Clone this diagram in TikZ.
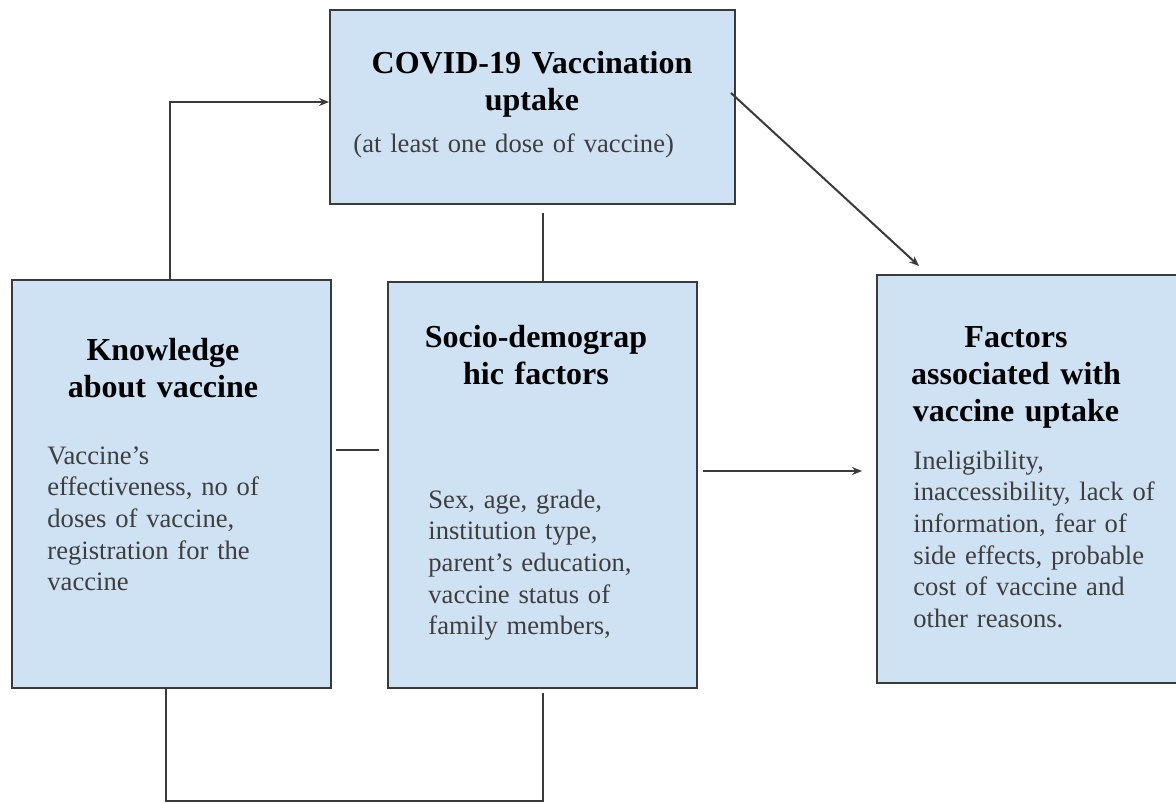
\documentclass[tikz,border=0pt]{standalone}
\usepackage{fontspec}
\setmainfont{Liberation Serif}
\usetikzlibrary{arrows.meta, positioning, calc}

\definecolor{boxfill}{HTML}{CFE2F3}
\definecolor{boxline}{HTML}{3A3A3A}
\definecolor{bodytext}{HTML}{3E3E3E}

\begin{document}
\begin{tikzpicture}[x=0.5pt,y=-0.5pt,
		box/.style={draw=boxline, fill=boxfill, line width=1pt, inner sep=0pt},
		head/.style={font=\fontsize{16}{18.5}\selectfont\bfseries, inner sep=0pt, align=center, anchor=base},
		body/.style={font=\fontsize{13.3}{15.85}\selectfont, text=bodytext, inner sep=0pt, align=left, anchor=base west},
		link/.style={draw=boxline, line width=1pt},
		arrow/.style={link, -{Stealth[length=5pt,width=4pt]}}]
			\useasboundingbox (0,0) rectangle (1176,803);

			\node[box, minimum width=202.5pt, minimum height=97pt] (uptake) at (532.5,107) {};
			\node[box, minimum width=159.5pt, minimum height=204pt] (know) at (171.5,484) {};
			\node[box, minimum width=154.5pt, minimum height=203pt] (socio) at (542.5,485) {};
			\node[box, minimum width=152.5pt, minimum height=204pt] (factors) at (1029.5,479) {};

			\node[head, text width=190pt] (uptaketitle) at (532,73) {COVID-19 Vaccination\\uptake};
			\node[body, text width=170pt] (uptakenote) at (353,152) {(at least one dose of vaccine)};

			\node[head, text width=140pt] (knowtitle) at (163,360) {Knowledge\\about vaccine};
			\node[body, text width=140pt] (knowtext) at (47,464) {Vaccine’s\\effectiveness, no of\\doses of vaccine,\\registration for the\\vaccine};

			\node[head, text width=140pt] (sociotitle) at (536,347) {Socio-demograp\\hic factors};
			\node[body, text width=140pt] (sociotext) at (428,508) {Sex, age, grade,\\institution type,\\parent’s education,\\vaccine status of\\family members,};

			\node[head, text width=140pt] (factorstitle) at (1016,347) {Factors\\associated with\\vaccine uptake};
			\node[body, text width=130pt] (factorstext) at (913,469) {Ineligibility,\\inaccessibility, lack of\\information, fear of\\side effects, probable\\cost of vaccine and\\other reasons.};

			\coordinate (kneck) at ([yshift=17pt]know.east);
			\coordinate (sneck) at ([yshift=7pt]socio.east);
			\coordinate (kfoot) at ([xshift=-2.75pt]know.south);
			\coordinate (base) at (0,801);

			\draw[arrow] ([xshift=-0.75pt]know.north) |- ([yshift=2.5pt]uptake.west);
			\draw[link, shorten <=4pt] (socio.north |- uptake.south) -- (socio.north);
			\draw[arrow] ([xshift=-2.5pt,yshift=7pt]uptake.east) -- ([xshift=21.5pt,yshift=4pt]factors.north west);
			\draw[link, shorten <=2pt, shorten >=4pt] (kneck) -- (kneck -| socio.west);
			\draw[arrow, shorten <=2.5pt, shorten >=7pt] (sneck) -- (sneck -| factors.west);
			\draw[link, shorten >=2pt] (kfoot) -- (kfoot |- base) -| (socio.south);
		\end{tikzpicture}
\end{document}
